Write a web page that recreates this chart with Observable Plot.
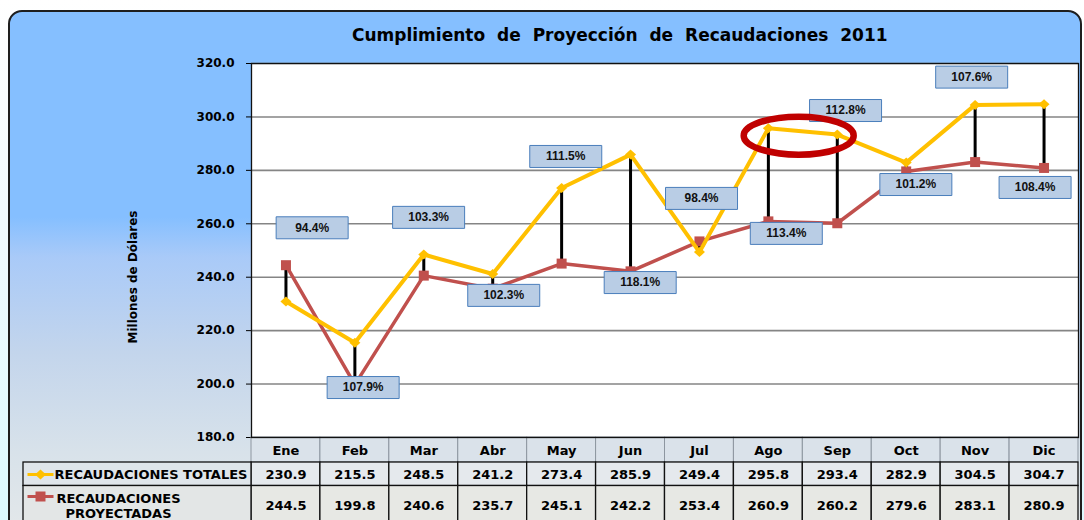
<!DOCTYPE html>
<html><head><meta charset="utf-8">
<script src="https://cdn.jsdelivr.net/npm/d3@7"></script>
<script src="https://cdn.jsdelivr.net/npm/@observablehq/plot@0.6"></script>
<style>
html,body{margin:0;padding:0;width:1084px;height:520px;overflow:hidden;background:linear-gradient(to bottom,#ffffff 0%,#f2fbff 40%,#dcfaff 100%);}
#panel{position:absolute;left:8px;top:10px;width:1074px;height:540px;box-sizing:border-box;border:2px solid #1e1e1e;border-radius:14px 14px 0 0;background:linear-gradient(to bottom,#85bfff 0px,#85bfff 205px,#a9caf8 245px,#c3d5ec 340px,#d8e2ea 440px,#e2e7ea 510px);}
#title{position:absolute;left:352px;top:24.6px;font:bold 17px "DejaVu Sans";line-height:20px;word-spacing:6px;white-space:nowrap;color:#000}
#chart{position:absolute;left:0;top:0}
</style></head><body>
<div id="panel"></div>
<div id="title">Cumplimiento de Proyección de Recaudaciones 2011</div>
<div id="chart"></div>
<script>
// ---- data ----
const months = ["Ene","Feb","Mar","Abr","May","Jun","Jul","Ago","Sep","Oct","Nov","Dic"];
const totals = [230.9,215.5,248.5,241.2,273.4,285.9,249.4,295.8,293.4,282.9,304.5,304.7];
const projected = [244.5,199.8,240.6,235.7,245.1,242.2,253.4,260.9,260.2,279.6,283.1,280.9];
const pctLabels = ["94.4%","107.9%","103.3%","102.3%","111.5%","118.1%","98.4%","113.4%","112.8%","101.2%","107.6%","108.4%"];
// annotation placement (value axis) and shift along month axis
const labelY = [258.5,198.7,262.4,233.2,285.2,238.0,269.5,256.4,302.4,274.7,314.9,273.6];
const labelShift = [0.38,0.12,0.07,0.16,0.06,0.14,0.03,0.26,0.12,0.14,-0.05,-0.13];
const yTicks = [180,200,220,240,260,280,300,320];
const seriesNames = ["RECAUDACIONES TOTALES","RECAUDACIONES\nPROYECTADAS"];
const highlightMonth = 7.94; // between Ago and Sep
const highlightValue = 293.0;

const rows = months.map((m,i)=>({m,i,total:totals[i],proj:projected[i],pct:pctLabels[i],ly:labelY[i],lx:labelShift[i]}));

const W=1084,H=520,mL=251,mR=6,mT=63,mB=83;
const frameW=W-mL-mR, frameH=H-mT-mB;
const YEL="#FFC000", RED="#C0504D";

const rectSym=(w,h)=>({draw(ctx){ctx.rect(-w/2,-h/2,w,h);}});
const diamondSym={draw(ctx){ctx.moveTo(0,-5);ctx.lineTo(5.5,0);ctx.lineTo(0,5);ctx.lineTo(-5.5,0);ctx.closePath();}};
const ellipseSym=(rx,ry)=>({draw(ctx){const k=0.5523;ctx.moveTo(rx,0);
  ctx.bezierCurveTo(rx,ry*k,rx*k,ry,0,ry);ctx.bezierCurveTo(-rx*k,ry,-rx,ry*k,-rx,0);
  ctx.bezierCurveTo(-rx,-ry*k,-rx*k,-ry,0,-ry);ctx.bezierCurveTo(rx*k,-ry,rx,-ry*k,rx,0);ctx.closePath();}});

const cx = d=>d.i+0.5;
const FF="DejaVu Sans";

const plot = Plot.plot({
  width:W,height:H,marginLeft:mL,marginRight:mR,marginTop:mT,marginBottom:mB,
  style:{background:"transparent",fontFamily:FF,fontSize:"12px",fontWeight:"bold",overflow:"visible",color:"#000"},
  x:{type:"linear",domain:[0,12],axis:null},
  y:{domain:[180,320],ticks:yTicks,tickFormat:d=>d.toFixed(1),tickSize:5,tickPadding:12,label:null},
  marks:[
    Plot.frame({fill:"white"}),
    Plot.ruleY(yTicks,{stroke:"#858585",strokeWidth:1.6}),
    // table: header row
    Plot.rect(rows,{x1:d=>d.i,x2:d=>d.i+1,insetTop:frameH,insetBottom:-25,fill:"#dae2ea",stroke:"#8d96a0"}),
    // table rows
    Plot.rect(rows,{x1:d=>d.i,x2:d=>d.i+1,insetTop:frameH+25,insetBottom:-48.5,fill:"#e5e9ed",stroke:"#111",strokeWidth:1.3}),
    Plot.rect(rows,{x1:d=>d.i,x2:d=>d.i+1,insetTop:frameH+48.5,insetBottom:-110,fill:"#e7e8e4",stroke:"#111",strokeWidth:1.3}),
    Plot.rect([0],{insetLeft:-(mL-23),insetRight:frameW,insetTop:frameH+25,insetBottom:-48.5,fill:"#dfe5ea",stroke:"#111",strokeWidth:1.3}),
    Plot.rect([0],{insetLeft:-(mL-23),insetRight:frameW,insetTop:frameH+48.5,insetBottom:-110,fill:"#e3e6e6",stroke:"#111",strokeWidth:1.3}),
    Plot.text(rows,{x:cx,text:d=>d.m,frameAnchor:"bottom",textAnchor:"middle",lineAnchor:"middle",dy:13.5,fontSize:13,fontWeight:"bold"}),
    Plot.text(rows,{x:cx,text:d=>d.total.toFixed(1),frameAnchor:"bottom",textAnchor:"middle",lineAnchor:"middle",dy:37,fontSize:13,fontWeight:"bold"}),
    Plot.text(rows,{x:cx,text:d=>d.proj.toFixed(1),frameAnchor:"bottom",textAnchor:"middle",lineAnchor:"middle",dy:68,fontSize:13,fontWeight:"bold"}),
    // legend in table
    Plot.dot([0],{frameAnchor:"bottom-left",dx:40-mL,dy:37,symbol:rectSym(26,3),fill:YEL,stroke:"none"}),
    Plot.dot([0],{frameAnchor:"bottom-left",dx:40-mL,dy:37,symbol:diamondSym,fill:YEL,stroke:"none"}),
    Plot.dot([0],{frameAnchor:"bottom-left",dx:40-mL,dy:59,symbol:rectSym(26,3),fill:RED,stroke:"none"}),
    Plot.dot([0],{frameAnchor:"bottom-left",dx:40-mL,dy:59,symbol:rectSym(10,10),fill:RED,stroke:"none"}),
    Plot.text([seriesNames[0]],{frameAnchor:"bottom-left",textAnchor:"start",lineAnchor:"middle",dx:54-mL,dy:37,fontSize:13,fontWeight:"bold"}),
    Plot.text([seriesNames[1]],{frameAnchor:"bottom-left",textAnchor:"middle",lineAnchor:"middle",lineHeight:1.15,dx:118-mL,dy:68,fontSize:13,fontWeight:"bold"}),
    // y-axis title
    Plot.text(["Millones de Dólares"],{frameAnchor:"left",textAnchor:"middle",lineAnchor:"middle",rotate:-90,dx:133-mL,dy:26.5,fontSize:12,fontWeight:"bold"}),
    // drop lines
    Plot.ruleX(rows,{x:cx,y1:"proj",y2:"total",stroke:"#000",strokeWidth:3}),
    // series
    Plot.line(rows,{x:cx,y:"proj",stroke:RED,strokeWidth:3.5}),
    Plot.dot(rows,{x:cx,y:"proj",symbol:rectSym(10,10),fill:RED,stroke:"none"}),
    Plot.line(rows,{x:cx,y:"total",stroke:YEL,strokeWidth:4}),
    Plot.dot(rows,{x:cx,y:"total",symbol:diamondSym,fill:YEL,stroke:"none"}),
    Plot.frame({stroke:"#111",strokeWidth:1.3}),
    // percentage callouts
    Plot.dot(rows,{x:d=>d.i+0.5+d.lx,y:"ly",symbol:rectSym(72,22),fill:"#b9cde5",stroke:"#4a7ebb",strokeWidth:1}),
    Plot.text(rows,{x:d=>d.i+0.5+d.lx,y:"ly",text:"pct",fontFamily:"Liberation Sans",fontSize:12,fontWeight:"bold",textAnchor:"middle",lineAnchor:"middle",fill:"#111"}),
    // highlight ellipse
    Plot.dot([0],{x:()=>highlightMonth,y:()=>highlightValue,symbol:ellipseSym(55,19),fill:"none",stroke:"#c00000",strokeWidth:6.5})
  ]
});
document.getElementById("chart").appendChild(plot);
</script>
</body></html>
